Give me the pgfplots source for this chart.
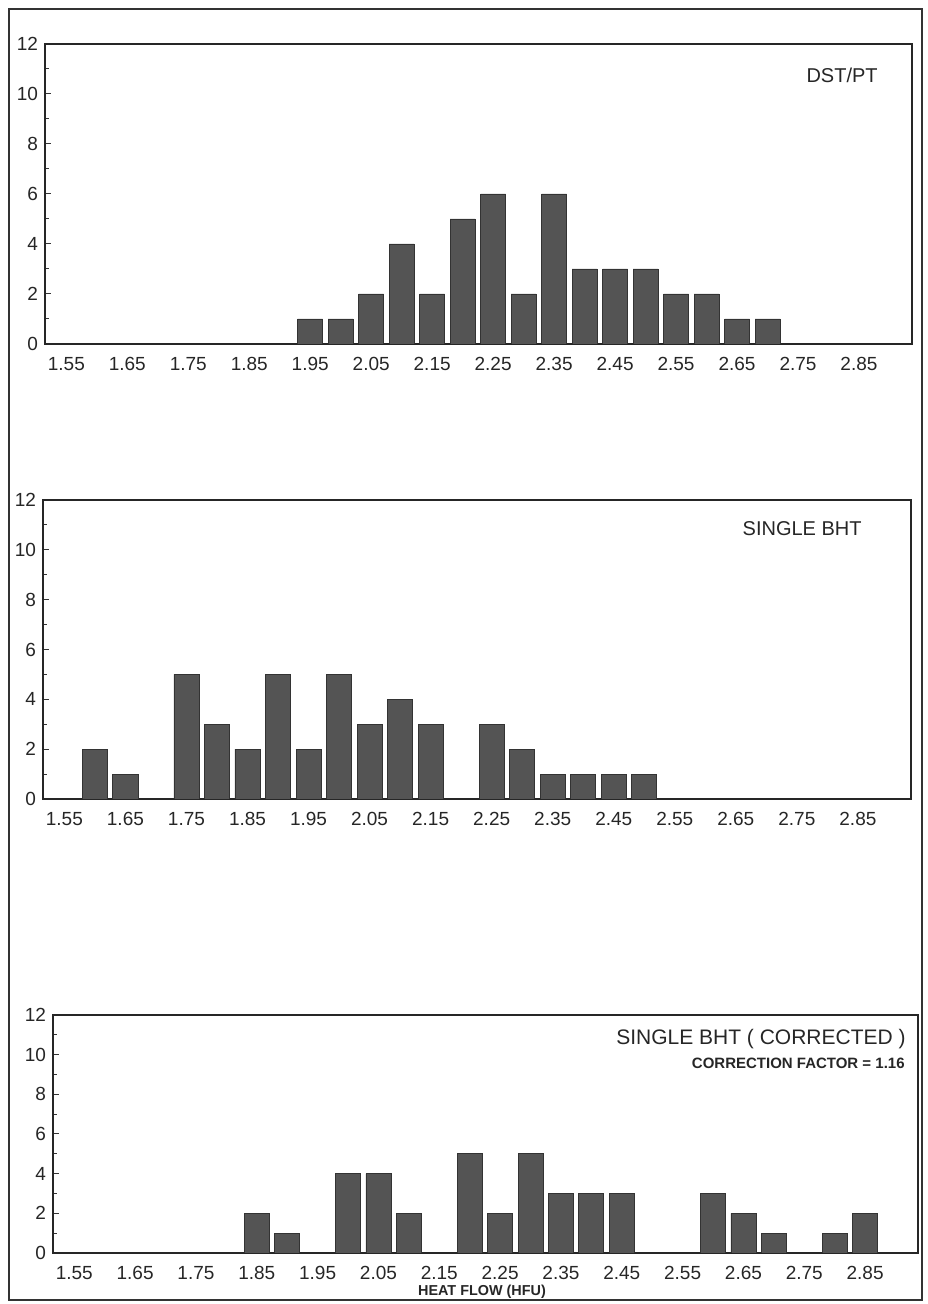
\documentclass[border=0pt]{standalone}
\usepackage{fontspec}
\setmainfont{Liberation Sans}
\usepackage{pgfplots}
\pgfplotsset{compat=1.18}
\definecolor{barfill}{gray}{0.33}
\definecolor{barline}{gray}{0.2}
\pgfplotsset{hist/.style={
  scale only axis,
  xmin=1.515, xmax=2.937, ymin=0, ymax=12,
  ytick={0,2,4,6,8,10,12}, minor y tick num=1,
  xtick={1.55,1.65,1.75,1.85,1.95,2.05,2.15,2.25,2.35,2.45,2.55,2.65,2.75,2.85},
  xticklabels={1.55,1.65,1.75,1.85,1.95,2.05,2.15,2.25,2.35,2.45,2.55,2.65,2.75,2.85},
  tick pos=left, tick align=inside,
  major x tick style={draw=none},
  major tick length=3pt, minor tick length=2pt,
  every tick/.style={black!80, line width=0.5pt},
  axis line style={black!85, line width=0.6pt},
  tick label style={font=\fontsize{9.5}{11}\selectfont, text=black!85},
  xticklabel style={yshift=0pt},
  yticklabel style={xshift=0pt},
  /pgf/number format/assume math mode=true,
  ybar, bar width=0.041,
}}
\begin{document}
\begin{tikzpicture}
\path (0,0) rectangle (463.5pt,652pt);
\draw[black!80, line width=0.8pt] (4.5pt,2pt) rectangle (461pt,647.5pt);
% panel 1
\begin{axis}[hist, at={(22.5pt,480pt)}, anchor=south west, width=433.5pt, height=150pt]
\addplot[fill=barfill, draw=barline, line width=0.4pt] coordinates {
(1.95,1) (2.00,1) (2.05,2) (2.10,4) (2.15,2) (2.20,5) (2.25,6) (2.30,2)
(2.35,6) (2.40,3) (2.45,3) (2.50,3) (2.55,2) (2.60,2) (2.65,1) (2.70,1)};
\end{axis}
% panel 2
\begin{axis}[hist, at={(21.5pt,252.5pt)}, anchor=south west, width=434pt, height=149.5pt]
\addplot[fill=barfill, draw=barline, line width=0.4pt] coordinates {
(1.60,2) (1.65,1) (1.75,5) (1.80,3) (1.85,2) (1.90,5) (1.95,2) (2.00,5)
(2.05,3) (2.10,4) (2.15,3) (2.25,3) (2.30,2) (2.35,1) (2.40,1) (2.45,1) (2.50,1)};
\end{axis}
% panel 3
\begin{axis}[hist, at={(26.5pt,25.5pt)}, anchor=south west, width=432.5pt, height=119pt]
\addplot[fill=barfill, draw=barline, line width=0.4pt] coordinates {
(1.85,2) (1.90,1) (2.00,4) (2.05,4) (2.10,2) (2.20,5) (2.25,2) (2.30,5)
(2.35,3) (2.40,3) (2.45,3) (2.60,3) (2.65,2) (2.70,1) (2.80,1) (2.85,2)};
\end{axis}
\node[anchor=east, inner sep=0pt, text=black!85, font=\fontsize{10}{12}\selectfont] at (439pt,614.5pt) {DST/PT};
\node[anchor=east, inner sep=0pt, text=black!85, font=\fontsize{10}{12}\selectfont] at (431pt,387.5pt) {SINGLE BHT};
\node[anchor=east, inner sep=0pt, text=black!85, font=\fontsize{10.5}{12}\selectfont] at (453pt,132.5pt) {SINGLE BHT ( CORRECTED )};
\node[anchor=east, inner sep=0pt, text=black!85, font=\bfseries\fontsize{7.5}{9}\selectfont] at (452.5pt,120.5pt) {CORRECTION FACTOR = 1.16};
\node[inner sep=0pt, text=black!85, font=\bfseries\fontsize{7.2}{8}\selectfont] at (241pt,6pt) {HEAT FLOW (HFU)};
\end{tikzpicture}
\end{document}
